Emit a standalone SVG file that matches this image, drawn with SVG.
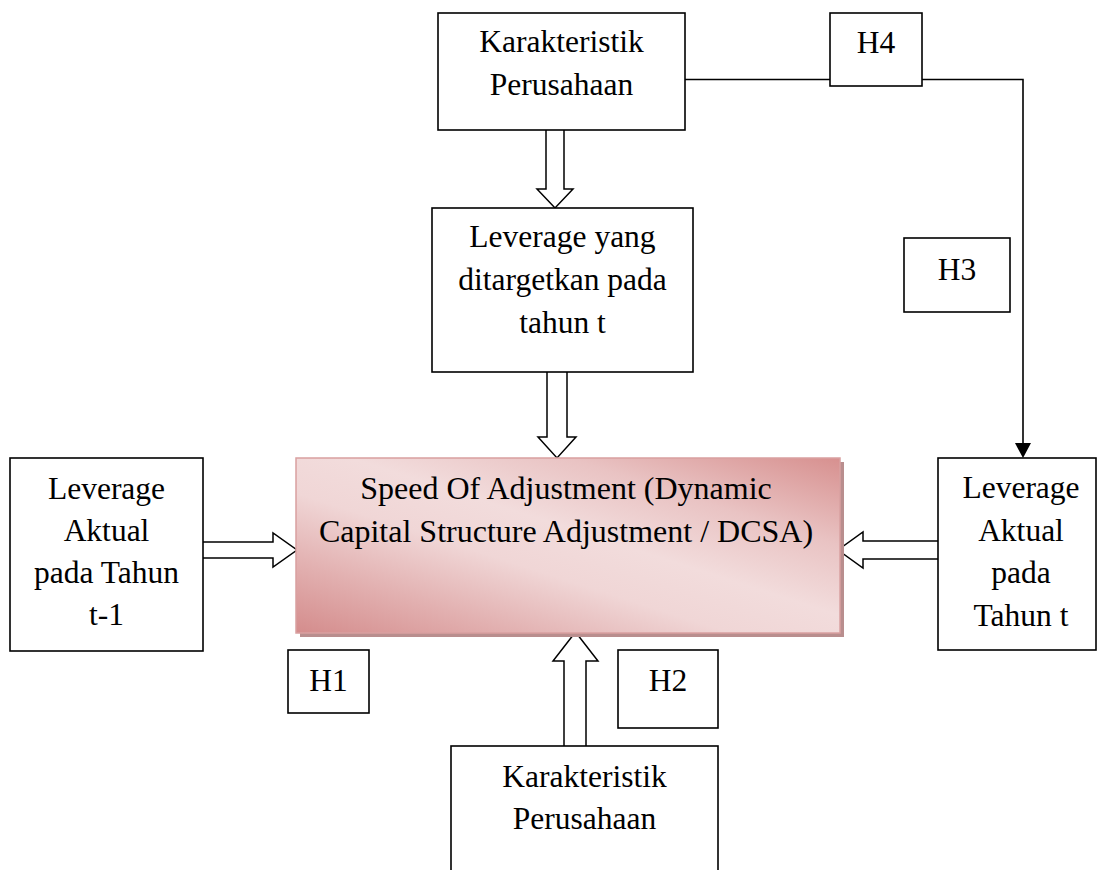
<svg xmlns="http://www.w3.org/2000/svg" width="1104" height="870" viewBox="0 0 1104 870">
<style>
.box{fill:#fff;stroke:#000;stroke-width:1.6}
.t{font-family:"Liberation Serif","Times New Roman",serif;font-size:31.5px;fill:#000;text-anchor:middle}
.tc{font-size:32px}
.blk{fill:#fff;stroke:#000;stroke-width:1.5;stroke-linejoin:miter}
.ln{fill:none;stroke:#000;stroke-width:1.6}
</style>
<defs>
<linearGradient id="pink" x1="1" y1="0" x2="0" y2="1">
<stop offset="0" stop-color="#d7908f"/>
<stop offset="0.25" stop-color="#e9c3c3"/>
<stop offset="0.45" stop-color="#f2dcdc"/>
<stop offset="0.6" stop-color="#f0d6d6"/>
<stop offset="0.8" stop-color="#e2b0b0"/>
<stop offset="1" stop-color="#d48c8c"/>
</linearGradient>
</defs>

<g id="connectors">
<path class="ln" d="M685,79.5 H1023 V443"/>
<path d="M1015,443 L1031,443 L1023,458 Z" fill="#000"/>
<path class="blk" d="M546,130 V189 H537 L555,208 L573,189 H564 V130"/>
<path class="blk" d="M547,372 V437 H538 L557,458 L576,437 H567 V372"/>
<path class="blk" d="M203,542 H273 V533 L297,550 L273,567 V558 H203"/>
<path class="blk" d="M938,541 H863 V532 L838,550 L863,568 V559 H938"/>
<path class="blk" d="M564,746 V661 H553 L575.5,632 L598,661 H586 V746"/>
</g>

<g id="n-karakteristik-top">
<rect class="box" x="438" y="13" width="247" height="117"/>
<text class="t" x="561.5" y="52">Karakteristik</text>
<text class="t" x="561.5" y="95">Perusahaan</text>
</g>

<g id="n-h4">
<rect class="box" x="830" y="13" width="92" height="73"/>
<text class="t" x="876" y="53">H4</text>
</g>

<g id="n-leverage-target">
<rect class="box" x="432" y="208" width="261" height="164"/>
<text class="t" x="562.5" y="247">Leverage yang</text>
<text class="t" x="562.5" y="290">ditargetkan pada</text>
<text class="t" x="562.5" y="333">tahun t</text>
</g>

<g id="n-h3">
<rect class="box" x="904" y="238" width="106" height="74"/>
<text class="t" x="957" y="280">H3</text>
</g>

<g id="n-soa">
<rect x="300" y="462" width="544" height="175" fill="#b98e8e"/>
<rect x="296" y="458" width="544" height="175" fill="url(#pink)" stroke="#d9a0a0" stroke-width="1.5"/>
<text class="t tc" x="566" y="499">Speed Of Adjustment (Dynamic</text>
<text class="t tc" x="566" y="542">Capital Structure Adjustment / DCSA)</text>
</g>

<g id="n-leverage-t1">
<rect class="box" x="10" y="458" width="193" height="193"/>
<text class="t" x="106.5" y="499">Leverage</text>
<text class="t" x="106.5" y="541">Aktual</text>
<text class="t" x="106.5" y="583">pada Tahun</text>
<text class="t" x="106.5" y="625">t-1</text>
</g>

<g id="n-leverage-t">
<rect class="box" x="938" y="458" width="158" height="192"/>
<text class="t" x="1021" y="498">Leverage</text>
<text class="t" x="1021" y="541">Aktual</text>
<text class="t" x="1021" y="583">pada</text>
<text class="t" x="1021" y="626">Tahun t</text>
</g>

<g id="n-h1">
<rect class="box" x="288" y="650" width="81" height="63"/>
<text class="t" x="328.5" y="691">H1</text>
</g>

<g id="n-h2">
<rect class="box" x="618" y="650" width="100" height="78"/>
<text class="t" x="668" y="691">H2</text>
</g>

<g id="n-karakteristik-bottom">
<rect class="box" x="451" y="746" width="267" height="140"/>
<text class="t" x="584.5" y="787">Karakteristik</text>
<text class="t" x="584.5" y="829">Perusahaan</text>
</g>
</svg>
